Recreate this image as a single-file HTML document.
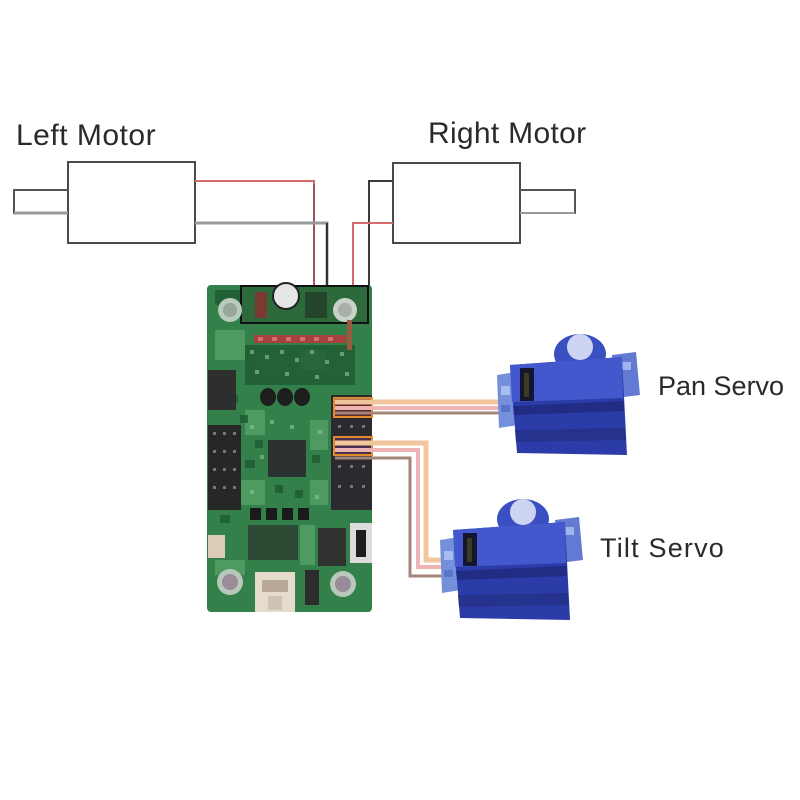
<!DOCTYPE html>
<html><head><meta charset="utf-8"><style>
html,body{margin:0;padding:0;background:#fff;}
svg{display:block;}
text{font-family:"Liberation Sans",sans-serif;fill:#2a2a2a;}
</style></head><body>
<svg width="800" height="800" viewBox="0 0 800 800" xmlns="http://www.w3.org/2000/svg">
<rect width="800" height="800" fill="#fff"/>

<!-- Labels -->
<text x="16" y="145" font-size="30" letter-spacing="0.5">Left Motor</text>
<text x="428" y="143" font-size="30" letter-spacing="0.3">Right Motor</text>
<text x="658" y="395" font-size="27" fill="#1a1a1a">Pan Servo</text>
<text x="600" y="557" font-size="27" letter-spacing="1.2" fill="#1a1a1a">Tilt Servo</text>

<!-- Left motor -->
<rect x="68" y="162" width="127" height="81" fill="#fff" stroke="#4a4a4a" stroke-width="2"/>
<path d="M68 190 H14 V213 H68" fill="none" stroke="#555" stroke-width="2"/>
<path d="M14 213 H68" stroke="#999" stroke-width="3"/>
<!-- Right motor -->
<rect x="393" y="163" width="127" height="80" fill="#fff" stroke="#4a4a4a" stroke-width="2"/>
<path d="M520 190 H575 V213 H520" fill="none" stroke="#555" stroke-width="2"/>
<path d="M520 213 H575" stroke="#999" stroke-width="2"/>

<!-- Motor wires -->
<path d="M195 181 H314 V300" fill="none" stroke="#d46a6a" stroke-width="2"/>
<path d="M314 184 V300" fill="none" stroke="#6a4040" stroke-width="1"/>
<path d="M195 223 H327 V300" fill="none" stroke="#9a9a9a" stroke-width="3"/>
<path d="M327 223 V300" fill="none" stroke="#333" stroke-width="2"/>
<path d="M393 181 H369 V300" fill="none" stroke="#3a3a3a" stroke-width="2"/>
<path d="M393 223 H353 V300" fill="none" stroke="#d46a6a" stroke-width="2"/>

<!-- Board -->
<rect x="207" y="285" width="165" height="327" rx="4" fill="#33804a"/>
<!-- mottled texture -->
<g fill="#5aa56b" opacity="0.7">
<rect x="215" y="330" width="30" height="30"/><rect x="300" y="350" width="25" height="20"/>
<rect x="245" y="410" width="20" height="25"/><rect x="310" y="420" width="18" height="30"/>
<rect x="240" y="480" width="25" height="25"/><rect x="310" y="480" width="18" height="25"/>
<rect x="300" y="525" width="15" height="40"/><rect x="215" y="560" width="30" height="15"/>
</g>
<g fill="#1f5a30" opacity="0.8">
<rect x="245" y="345" width="110" height="40"/>
<rect x="215" y="290" width="25" height="15"/>
<rect x="240" y="415" width="8" height="8"/><rect x="255" y="440" width="8" height="8"/>
<rect x="312" y="455" width="8" height="8"/><rect x="245" y="460" width="10" height="8"/>
<rect x="275" y="485" width="8" height="8"/><rect x="295" y="490" width="8" height="8"/>
<rect x="220" y="515" width="10" height="8"/><rect x="230" y="395" width="8" height="8"/>
</g>
<g fill="#8cc79a" opacity="0.6">
<rect x="250" y="350" width="4" height="4"/><rect x="265" y="355" width="4" height="4"/><rect x="280" y="350" width="4" height="4"/>
<rect x="295" y="358" width="4" height="4"/><rect x="310" y="350" width="4" height="4"/><rect x="325" y="360" width="4" height="4"/>
<rect x="340" y="352" width="4" height="4"/><rect x="255" y="370" width="4" height="4"/><rect x="285" y="372" width="4" height="4"/>
<rect x="315" y="375" width="4" height="4"/><rect x="345" y="372" width="4" height="4"/><rect x="250" y="425" width="4" height="4"/>
<rect x="318" y="430" width="4" height="4"/><rect x="250" y="490" width="4" height="4"/><rect x="315" y="495" width="4" height="4"/>
<rect x="270" y="420" width="4" height="4"/><rect x="290" y="425" width="4" height="4"/><rect x="260" y="455" width="4" height="4"/>
</g>
<!-- top connector outline -->
<rect x="241" y="286" width="127" height="37" fill="#2c6a3c" stroke="#111" stroke-width="2"/>
<rect x="255" y="292" width="12" height="26" fill="#7a3a30"/>
<rect x="305" y="292" width="22" height="26" fill="#24442c"/>
<circle cx="286" cy="296" r="13" fill="#e6e6e6" stroke="#222" stroke-width="2"/>
<!-- mounting holes -->
<circle cx="230" cy="310" r="12" fill="#b9ccbc"/><circle cx="230" cy="310" r="7" fill="#97a59a"/>
<circle cx="345" cy="310" r="12" fill="#c8d2c8"/><circle cx="345" cy="310" r="7" fill="#a8b0a8"/>
<circle cx="230" cy="582" r="13" fill="#b8c8bb"/><circle cx="230" cy="582" r="8" fill="#9a8c98"/>
<circle cx="343" cy="584" r="13" fill="#b8c8bb"/><circle cx="343" cy="584" r="8" fill="#9a8c98"/>
<!-- red resistor row -->
<rect x="254" y="335" width="92" height="8" fill="#a8403e"/>
<g fill="#d07070"><rect x="258" y="337" width="5" height="4"/><rect x="272" y="337" width="5" height="4"/><rect x="286" y="337" width="5" height="4"/><rect x="300" y="337" width="5" height="4"/><rect x="314" y="337" width="5" height="4"/><rect x="328" y="337" width="5" height="4"/></g>
<rect x="347" y="320" width="5" height="30" fill="#9a5a40"/>
<!-- black ovals -->
<ellipse cx="268" cy="397" rx="8" ry="9" fill="#1e1e1e"/>
<ellipse cx="285" cy="397" rx="8" ry="9" fill="#1e1e1e"/>
<ellipse cx="302" cy="397" rx="8" ry="9" fill="#1e1e1e"/>
<!-- left dark blocks -->
<rect x="208" y="370" width="28" height="40" fill="#2e2e2e"/>
<rect x="208" y="425" width="33" height="85" fill="#262828"/>
<g fill="#777"><rect x="213" y="432" width="3" height="3"/><rect x="223" y="432" width="3" height="3"/><rect x="233" y="432" width="3" height="3"/>
<rect x="213" y="450" width="3" height="3"/><rect x="223" y="450" width="3" height="3"/><rect x="233" y="450" width="3" height="3"/>
<rect x="213" y="468" width="3" height="3"/><rect x="223" y="468" width="3" height="3"/><rect x="233" y="468" width="3" height="3"/>
<rect x="213" y="486" width="3" height="3"/><rect x="223" y="486" width="3" height="3"/><rect x="233" y="486" width="3" height="3"/></g>
<!-- right header -->
<rect x="331" y="395" width="41" height="115" fill="#2a2a30"/>
<g fill="#777"><rect x="338" y="425" width="3" height="3"/><rect x="350" y="425" width="3" height="3"/><rect x="362" y="425" width="3" height="3"/>
<rect x="338" y="465" width="3" height="3"/><rect x="350" y="465" width="3" height="3"/><rect x="362" y="465" width="3" height="3"/>
<rect x="338" y="485" width="3" height="3"/><rect x="350" y="485" width="3" height="3"/><rect x="362" y="485" width="3" height="3"/></g>
<rect x="334" y="398" width="38" height="19" fill="#5a2a28" stroke="#e08a30" stroke-width="2"/>
<rect x="334" y="437" width="38" height="18" fill="#4a3050" stroke="#e08a30" stroke-width="2"/>
<!-- chip -->
<rect x="268" y="440" width="38" height="37" fill="#2c3232"/>
<!-- black squares row -->
<g fill="#1a1a1a"><rect x="250" y="508" width="11" height="12"/><rect x="266" y="508" width="11" height="12"/><rect x="282" y="508" width="11" height="12"/><rect x="298" y="508" width="11" height="12"/></g>
<!-- lower components -->
<rect x="248" y="525" width="50" height="35" fill="#2c4a34"/>
<rect x="318" y="528" width="28" height="38" fill="#303232"/>
<rect x="350" y="523" width="22" height="40" fill="#dcdcdc"/>
<rect x="356" y="530" width="10" height="27" fill="#1e1e1e"/>
<rect x="208" y="535" width="17" height="23" fill="#ddcdb6"/>
<rect x="305" y="570" width="14" height="35" fill="#2c2c2c"/>
<!-- USB -->
<rect x="255" y="572" width="40" height="40" fill="#e6dccc"/>
<rect x="262" y="580" width="26" height="12" fill="#b8a898"/>
<rect x="268" y="596" width="14" height="14" fill="#cfc3b3"/>

<!-- Pan servo wires -->
<path d="M335 402 H500" stroke="#f2c69c" stroke-width="5"/>
<path d="M335 408 H500" stroke="#eeb4b4" stroke-width="4"/>
<path d="M335 413 H500" stroke="#a38478" stroke-width="3"/>
<!-- Tilt servo wires -->
<path d="M335 443 H426 V560 H442" fill="none" stroke="#f2c69c" stroke-width="5"/>
<path d="M335 450 H418 V567 H442" fill="none" stroke="#eeb4b4" stroke-width="4"/>
<path d="M335 458 H410 V576 H442" fill="none" stroke="#a38478" stroke-width="3"/>

<!-- Pan servo -->
<g>
 <path d="M497 375 L516 372 L518 425 L499 428 Z" fill="#7590da"/>
 <rect x="501" y="386" width="9" height="9" fill="#aabdf0"/>
 <rect x="501" y="405" width="9" height="7" fill="#5a72c8"/>
 <path d="M612 355 L636 352 L640 395 L616 398 Z" fill="#627ad2"/>
 <rect x="622" y="362" width="9" height="8" fill="#9fb3ee"/>
 <ellipse cx="580" cy="354" rx="26" ry="20" fill="#3a50c2"/>
 <path d="M510 365 L622 357 L627 455 L517 453 Z" fill="#2b3ca8"/>
 <path d="M510 365 L622 357 L623 398 L512 402 Z" fill="#4358cc"/>
 <path d="M513 406 L624 401 L624 411 L514 415 Z" fill="#212c84"/>
 <path d="M515 430 L625 428 L626 440 L516 442 Z" fill="#25328e"/>
 <circle cx="580" cy="347" r="13" fill="#cdd4f2"/>
 <rect x="520" y="368" width="14" height="33" fill="#151530"/>
 <rect x="524" y="373" width="5" height="24" fill="#3d3b22"/>
</g>
<!-- Tilt servo -->
<g transform="translate(-57,165)">
 <path d="M497 375 L516 372 L518 425 L499 428 Z" fill="#7590da"/>
 <rect x="501" y="386" width="9" height="9" fill="#aabdf0"/>
 <rect x="501" y="405" width="9" height="7" fill="#5a72c8"/>
 <path d="M612 355 L636 352 L640 395 L616 398 Z" fill="#627ad2"/>
 <rect x="622" y="362" width="9" height="8" fill="#9fb3ee"/>
 <ellipse cx="580" cy="354" rx="26" ry="20" fill="#3a50c2"/>
 <path d="M510 365 L622 357 L627 455 L517 453 Z" fill="#2b3ca8"/>
 <path d="M510 365 L622 357 L623 398 L512 402 Z" fill="#4358cc"/>
 <path d="M513 406 L624 401 L624 411 L514 415 Z" fill="#212c84"/>
 <path d="M515 430 L625 428 L626 440 L516 442 Z" fill="#25328e"/>
 <circle cx="580" cy="347" r="13" fill="#cdd4f2"/>
 <rect x="520" y="368" width="14" height="33" fill="#151530"/>
 <rect x="524" y="373" width="5" height="24" fill="#3d3b22"/>
</g>
</svg>
</body></html>
